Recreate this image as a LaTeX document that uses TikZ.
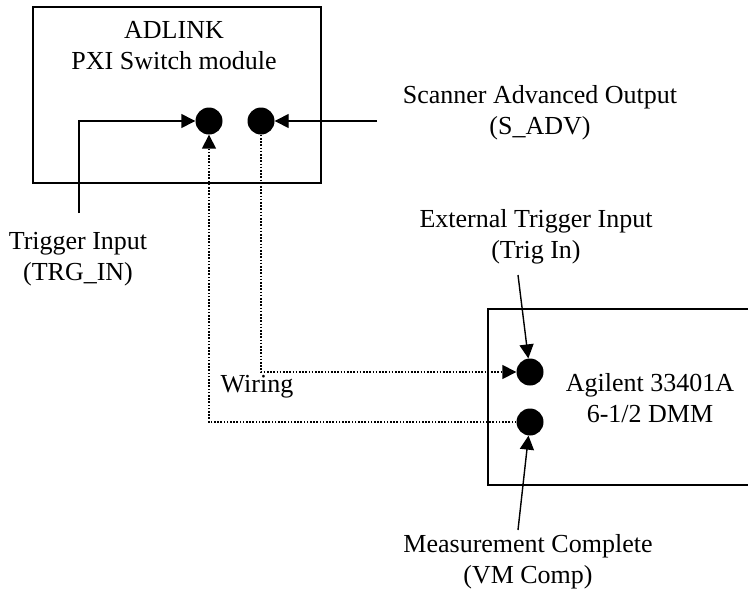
\documentclass[tikz,border=0pt]{standalone}
\usepackage{fontspec}
\setmainfont{Liberation Serif}
\usetikzlibrary{arrows.meta}
\tikzset{
  >={Triangle[length=14pt,width=14pt]},
  every node/.style={font=\fontsize{26}{31}\selectfont},
  unit/.style={draw, line width=1.8pt, inner sep=0pt},
  pin/.style={circle, fill=black, minimum size=27pt, inner sep=0pt},
  annot/.style={align=center, inner sep=0pt},
  wire/.style={->, line width=1.4pt},
  dotwire/.style={->, line width=1.6pt, dash pattern=on 1.6pt off 1.6pt}
}
\begin{document}
\begin{tikzpicture}[x=1pt, y=-1pt]
  \useasboundingbox (0,0) rectangle (748,590);
  \clip (0,0) rectangle (748,590);

  % instruments
  \node[unit, minimum width=288pt, minimum height=176pt] (adlink) at (177,95) {};
  \node[unit, minimum width=280pt, minimum height=176pt] (dmm) at (628,397) {};
  \node[annot] (adlinkname) at (174,46) {ADLINK\\PXI Switch module};
  \node[annot] (dmmname) at (650,398) {Agilent 33401A\\6-1/2 DMM};

  % terminals
  \node[pin] (trgin) at (209,121) {};
  \node[pin] (sadv) at (261,121) {};
  \node[pin] (trigin) at (530,372) {};
  \node[pin] (vmcomp) at (530,422) {};

  % terminal labels
  \node[annot] (trginlabel) at (78,259) {Trigger Input\\(TRG\_IN)};
  \node[annot] (sadvlabel) at (540,113) {Scanner Advanced Output\\(S\_ADV)};
  \node[annot] (triginlabel) at (536,237) {External Trigger Input\\(Trig In)};
  \node[annot] (vmcomplabel) at (528,562) {Measurement Complete\\(VM Comp)};
  \node[annot, anchor=base] (wiringlabel) at (257,392) {Wiring};

  \coordinate (trginend) at (79,213);
  \coordinate (sadvend) at (377,121);
  \coordinate (triginend) at (518,275);
  \coordinate (vmcompend) at (518,530);

  \draw[wire] (trginend) |- (trgin);
  \draw[wire] (sadvend) -- (sadv);
  \draw[wire] (triginend) -- (trigin);
  \draw[wire] (vmcompend) -- (vmcomp);

  % wiring between the two instruments
  \draw[dotwire] (sadv) |- (trigin);
  \draw[dotwire] (vmcomp) -| (trgin);
\end{tikzpicture}
\end{document}
